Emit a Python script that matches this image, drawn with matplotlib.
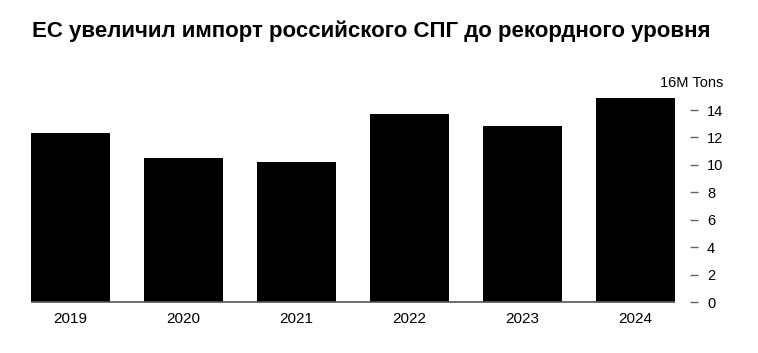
import matplotlib.pyplot as plt
import numpy as np

# EU imports of Russian LNG, million tons
years = ['2019', '2020', '2021', '2022', '2023', '2024']
imports_mt = [12.3, 10.5, 10.2, 13.7, 12.8, 14.85]
y_ticks = [0, 2, 4, 6, 8, 10, 12, 14]

title = 'ЕС увеличил импорт российского СПГ до рекордного уровня'
unit_label = '16M Tons'

plt.rcParams['font.family'] = ['Liberation Sans', 'DejaVu Sans']

fig = plt.figure(figsize=(7.58, 3.53), dpi=100)
ax = fig.add_axes([31 / 758, 1 - 302 / 353, (690 - 31) / 758, (302 - 82.6) / 353])

x = np.arange(len(years))
ax.bar(x, imports_mt, width=0.70, color='black', zorder=2)
ax.hlines(0, -0.35, len(years) - 1 + 0.35, color='#555555', lw=1.2, zorder=3, clip_on=False)

ax.set_xlim(-0.35, len(years) - 1 + 0.35 + 15 / 113)
ax.set_ylim(0, 16)

for s in ax.spines.values():
    s.set_visible(False)

ax.set_xticks(x)
ax.set_xticklabels(years, fontsize=11)
ax.tick_params(axis='x', length=0, pad=7)

ax.yaxis.tick_right()
ax.set_yticks(y_ticks)
ax.set_yticklabels([str(v) for v in y_ticks], fontsize=10.5)
ax.tick_params(axis='y', direction='out', length=5.8, width=1.0, color='#666666', pad=6.5)

# unit label sits where the 16 tick would be
fig.text(723 / 758, 1 - 82.7 / 353, unit_label, ha='right', va='center', fontsize=10.5)

fig.text(32 / 758, 1 - 31 / 353, title, ha='left', va='center', fontsize=16,
         fontweight='bold')

fig.savefig('out.png', dpi=100, facecolor='white')
